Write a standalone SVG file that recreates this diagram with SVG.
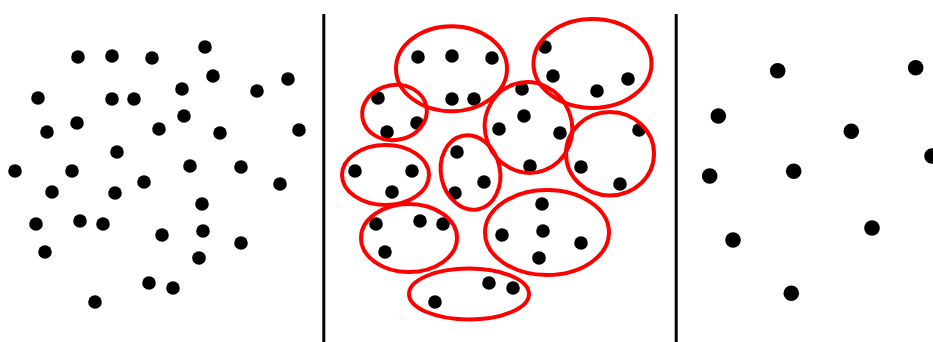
<svg xmlns="http://www.w3.org/2000/svg" xmlns:xlink="http://www.w3.org/1999/xlink" width="933" height="342" viewBox="0 0 933 342">
<style>
.d{fill:#000}
.e{fill:none;stroke:#f00;stroke-width:4}
.div{stroke:#000;stroke-width:3}
</style>
<defs>
<g id="dots">
<circle class="d" cx="78" cy="57" r="6.8"/>
<circle class="d" cx="112" cy="56" r="6.8"/>
<circle class="d" cx="152" cy="58" r="6.8"/>
<circle class="d" cx="205" cy="47" r="6.8"/>
<circle class="d" cx="213" cy="76" r="6.8"/>
<circle class="d" cx="182" cy="89" r="6.8"/>
<circle class="d" cx="257" cy="91" r="6.8"/>
<circle class="d" cx="288" cy="79" r="6.8"/>
<circle class="d" cx="38" cy="98" r="6.8"/>
<circle class="d" cx="112" cy="99" r="6.8"/>
<circle class="d" cx="134" cy="99" r="6.8"/>
<circle class="d" cx="77" cy="123" r="6.8"/>
<circle class="d" cx="47" cy="132" r="6.8"/>
<circle class="d" cx="159" cy="129" r="6.8"/>
<circle class="d" cx="184" cy="116" r="6.8"/>
<circle class="d" cx="220" cy="133" r="6.8"/>
<circle class="d" cx="299" cy="130" r="6.8"/>
<circle class="d" cx="117" cy="152" r="6.8"/>
<circle class="d" cx="15" cy="171" r="6.8"/>
<circle class="d" cx="72" cy="171" r="6.8"/>
<circle class="d" cx="190" cy="166" r="6.8"/>
<circle class="d" cx="241" cy="167" r="6.8"/>
<circle class="d" cx="144" cy="182" r="6.8"/>
<circle class="d" cx="280" cy="184" r="6.8"/>
<circle class="d" cx="52" cy="192" r="6.8"/>
<circle class="d" cx="115" cy="193" r="6.8"/>
<circle class="d" cx="202" cy="204" r="6.8"/>
<circle class="d" cx="36" cy="224" r="6.8"/>
<circle class="d" cx="80" cy="221" r="6.8"/>
<circle class="d" cx="103" cy="224" r="6.8"/>
<circle class="d" cx="162" cy="235" r="6.8"/>
<circle class="d" cx="203" cy="231" r="6.8"/>
<circle class="d" cx="241" cy="243" r="6.8"/>
<circle class="d" cx="45" cy="252" r="6.8"/>
<circle class="d" cx="199" cy="258" r="6.8"/>
<circle class="d" cx="149" cy="283" r="6.8"/>
<circle class="d" cx="173" cy="288" r="6.8"/>
<circle class="d" cx="95" cy="302" r="6.8"/>
</g>
</defs>
<rect width="933" height="342" fill="#fff"/>
<g id="dividers">
<line class="div" x1="323.8" y1="14" x2="323.8" y2="342"/>
<line class="div" x1="676.2" y1="14" x2="676.2" y2="342"/>
</g>
<g id="panel-left">
<use xlink:href="#dots" href="#dots"/>
</g>
<g id="panel-middle">
<use xlink:href="#dots" href="#dots" transform="translate(340,0)"/>
<g id="clusters">
<ellipse class="e" cx="451.5" cy="68.7" rx="55.5" ry="42.5"/>
<ellipse class="e" cx="592.5" cy="63.5" rx="59" ry="44.5"/>
<ellipse class="e" cx="394.5" cy="112.5" rx="32.5" ry="27.5" transform="rotate(-10 394.5 112.5)"/>
<ellipse class="e" cx="528.5" cy="127.5" rx="43.5" ry="45.5" transform="rotate(-20 528.5 127.5)"/>
<ellipse class="e" cx="610" cy="153.7" rx="44" ry="41.7"/>
<ellipse class="e" cx="385.5" cy="175" rx="43.5" ry="30"/>
<ellipse class="e" cx="470.5" cy="172.5" rx="29.5" ry="37.5" transform="rotate(-12 470.5 172.5)"/>
<ellipse class="e" cx="409" cy="238" rx="48" ry="34"/>
<ellipse class="e" cx="547" cy="232.5" rx="62" ry="42.5"/>
<ellipse class="e" cx="469" cy="294" rx="60" ry="25.5"/>
</g>
</g>
<g id="panel-right">
<circle class="d" cx="777.7" cy="70.7" r="7.8"/>
<circle class="d" cx="915.7" cy="67.7" r="7.8"/>
<circle class="d" cx="718.3" cy="116" r="7.8"/>
<circle class="d" cx="851.3" cy="131.3" r="7.8"/>
<circle class="d" cx="932" cy="156" r="7.8"/>
<circle class="d" cx="709.7" cy="176" r="7.8"/>
<circle class="d" cx="793.7" cy="171.3" r="7.8"/>
<circle class="d" cx="733" cy="240" r="7.8"/>
<circle class="d" cx="872" cy="228" r="7.8"/>
<circle class="d" cx="791.3" cy="293.3" r="7.8"/>
</g>
</svg>
